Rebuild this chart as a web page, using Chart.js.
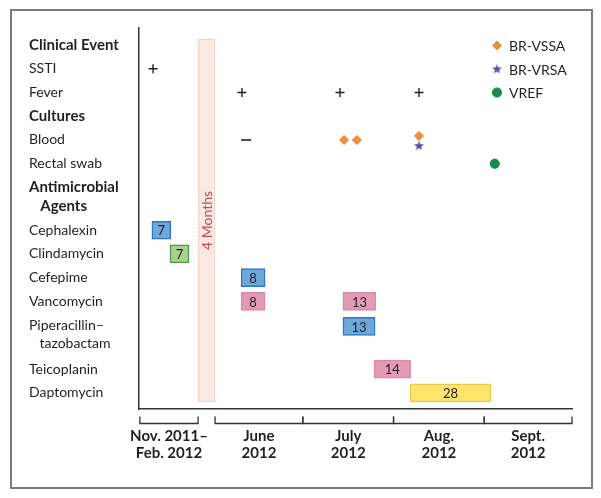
<!DOCTYPE html>
<html lang="en">
<head>
  <meta charset="UTF-8" />
  <title>Timeline</title>
  <script src="https://cdn.jsdelivr.net/npm/chart.js"></script>
  <style>
    body { margin: 0; background: #fff; }
    .wrap { position: relative; width: 601px; height: 498px; }
    .frame {
      position: absolute; left: 10px; top: 9px;
      width: 579px; height: 476px;
      border: 2px solid #7a7a7a;
      pointer-events: none;
    }
  </style>
</head>
<body>
  <div class="wrap">
    <canvas id="timeline" width="601" height="498"></canvas>
    <div class="frame"></div>
  </div>

  <script>
    // rows on the left (y values are row positions, top = 0)
    const rowLabels = ['Clinical Event', 'SSTI', 'Fever', 'Cultures', 'Blood', 'Rectal swab',
      ['Antimicrobial', '\u2003Agents'], 'Cephalexin', 'Clindamycin', 'Cefepime', 'Vancomycin',
      ['Piperacillin\u2013', '\u2003tazobactam'], 'Teicoplanin', 'Daptomycin'];
    const rowPos = [0, 1, 2, 3, 4, 5, 6.4, 7.8, 8.8, 9.8, 10.8, 12.2, 13.65, 14.65];
    const headerRows = [0, 3, 6];

    // time axis, in days from June 1 2012 (the Nov-Feb block is squeezed in front)
    const periodLabels = [['Nov. 2011\u2013', 'Feb. 2012'], ['June', '2012'], ['July', '2012'], ['Aug.', '2012'], ['Sept.', '2012']];
    const periodStart = [-25.7, 0, 30, 61, 92];
    const periodEnd = [-5.8, 30, 61, 92, 122];
    const gapStart = -5.8;
    const gapEnd = 0;
    const gapLabel = '4 Months';

    // antimicrobial courses
    const courseRow = [7.8, 8.8, 9.8, 10.8, 10.8, 11.85, 13.65, 14.65];
    const courseStart = [-21.6, -15.4, 8.9, 8.9, 43.7, 43.7, 54.3, 66.6];
    const courseEnd = [-15.1, -8.9, 17.1, 17.1, 55.0, 54.7, 66.9, 94.3];
    const courseDays = [7, 7, 8, 8, 13, 13, 14, 28];
    const courseDrug = ['Cephalexin', 'Clindamycin', 'Cefepime', 'Vancomycin', 'Vancomycin',
      'Piperacillin-tazobactam', 'Teicoplanin', 'Daptomycin'];

    // clinical events and cultures
    const positiveX = [-21.2, 9.2, 42.7, 69.7];
    const positiveRow = [1, 2, 2, 2];
    const negativeX = [10.6];
    const negativeRow = [4];
    const vssaX = [44.1, 48.5, 69.7];
    const vssaRow = [4, 4, 3.83];
    const vrsaX = [69.7];
    const vrsaRow = [4.24];
    const vrefX = [95.6];
    const vrefRow = [5];

    const FONT = 'Lato, "Open Sans", sans-serif';
    const TEXT = '#231f20';

    const drugColors = {
      'Cephalexin': ['#6fa6dc', '#2e78bf'],
      'Cefepime': ['#6fa6dc', '#2e78bf'],
      'Piperacillin-tazobactam': ['#6fa6dc', '#2e78bf'],
      'Clindamycin': ['#a9d18e', '#4f9a4a'],
      'Vancomycin': ['#e39ab6', '#d98aa8'],
      'Teicoplanin': ['#e39ab6', '#d98aa8'],
      'Daptomycin': ['#fde46b', '#e9c94a']
    };

    // filled star for BR-VRSA
    const starImg = document.createElement('canvas');
    starImg.width = 11;
    starImg.height = 11;
    (function () {
      const c = starImg.getContext('2d');
      c.fillStyle = '#5a4ea0';
      c.beginPath();
      for (let i = 0; i < 10; i++) {
        const r = i % 2 === 0 ? 5.3 : 2.2;
        const a = -Math.PI / 2 + i * Math.PI / 5;
        c.lineTo(5.5 + r * Math.cos(a), 5.8 + r * Math.sin(a));
      }
      c.closePath();
      c.fill();
    })();

    const pts = (xs, ys) => xs.map((x, i) => ({ x: x, y: ys[i] }));

    const gapPlugin = {
      id: 'gap',
      beforeDatasetsDraw(chart) {
        const { ctx, scales: { x, y } } = chart;
        const l = x.getPixelForValue(gapStart);
        const r = x.getPixelForValue(gapEnd);
        const t = y.getPixelForValue(-0.25);
        const b = y.getPixelForValue(15.03);
        ctx.save();
        ctx.fillStyle = '#f9e8e3';
        ctx.strokeStyle = '#f1d3cb';
        ctx.lineWidth = 1;
        ctx.fillRect(l, t, r - l, b - t);
        ctx.strokeRect(l + 0.5, t + 0.5, r - l - 1, b - t - 1);
        ctx.translate((l + r) / 2, (t + b) / 2);
        ctx.rotate(-Math.PI / 2);
        ctx.fillStyle = '#c0504d';
        ctx.font = '14px ' + FONT;
        ctx.textAlign = 'center';
        ctx.textBaseline = 'middle';
        ctx.fillText(gapLabel, 0, 1);
        ctx.restore();
      }
    };

    const extrasPlugin = {
      id: 'extras',
      afterDatasetsDraw(chart) {
        const { ctx, chartArea, scales: { x } } = chart;
        ctx.save();
        // day counts on the bars
        const meta = chart.getDatasetMeta(0);
        ctx.font = '13px ' + FONT;
        ctx.fillStyle = TEXT;
        ctx.textAlign = 'center';
        ctx.textBaseline = 'middle';
        meta.data.forEach((bar, i) => {
          const p = bar.getProps(['x', 'y', 'base'], true);
          ctx.fillText(String(courseDays[i]), (p.x + p.base) / 2, p.y + 1);
        });

        // period brackets under the axis
        const by = chartArea.bottom + 14.5;
        ctx.strokeStyle = '#333';
        ctx.lineWidth = 1.3;
        periodStart.forEach((s, i) => {
          const a = x.getPixelForValue(s);
          const b = x.getPixelForValue(periodEnd[i]);
          ctx.beginPath();
          ctx.moveTo(a, by - 7);
          ctx.lineTo(a, by);
          ctx.lineTo(b, by);
          ctx.lineTo(b, by - 7);
          ctx.stroke();
        });

        // legend
        const items = chart.data.datasets.filter(d => d.legendText);
        const lx = chartArea.right - 75;
        items.forEach((d, i) => {
          const ly = chartArea.top + 17.5 + i * 23.5;
          ctx.fillStyle = d.backgroundColor;
          ctx.strokeStyle = d.borderColor;
          ctx.lineWidth = 1;
          Chart.helpers.drawPoint(ctx, {
            pointStyle: d.pointStyle, radius: d.pointRadius, rotation: 0, borderWidth: 1
          }, lx, ly);
          ctx.fillStyle = TEXT;
          ctx.font = '14px ' + FONT;
          ctx.textAlign = 'left';
          ctx.fillText(d.legendText, lx + 12, ly + 1);
        });
        ctx.restore();
      }
    };

    new Chart(document.getElementById('timeline'), {
      type: 'scatter',
      data: {
        datasets: [{
          type: 'bar',
          indexAxis: 'y',
          data: courseRow.map((r, i) => ({ y: r, x: [courseStart[i], courseEnd[i]] })),
          backgroundColor: courseDrug.map(d => drugColors[d][0]),
          borderColor: courseDrug.map(d => drugColors[d][1]),
          borderWidth: 1.5,
          borderSkipped: false,
          barThickness: 18
        }, {
          data: pts(positiveX, positiveRow),
          pointStyle: 'cross',
          pointRadius: 4.5,
          borderColor: '#222',
          borderWidth: 1.4
        }, {
          data: pts(negativeX, negativeRow),
          pointStyle: 'line',
          pointRadius: 5,
          borderColor: '#222',
          borderWidth: 1.6
        }, {
          legendText: 'BR-VSSA',
          data: pts(vssaX, vssaRow),
          pointStyle: 'rectRot',
          pointRadius: 4.6,
          backgroundColor: '#e8913a',
          borderColor: '#e8913a',
          borderWidth: 1
        }, {
          legendText: 'BR-VRSA',
          data: pts(vrsaX, vrsaRow),
          pointStyle: starImg,
          pointRadius: 5,
          backgroundColor: '#5a4ea0',
          borderColor: '#5a4ea0'
        }, {
          legendText: 'VREF',
          data: pts(vrefX, vrefRow),
          pointStyle: 'circle',
          pointRadius: 4.6,
          backgroundColor: '#178a4c',
          borderColor: '#178a4c',
          borderWidth: 1
        }]
      },
      options: {
        responsive: false,
        animation: false,
        devicePixelRatio: 1,
        layout: { padding: { left: 29, right: 29, top: 28, bottom: 0 } },
        plugins: {
          legend: { display: false },
          tooltip: { enabled: false }
        },
        scales: {
          x: {
            type: 'linear',
            min: -26,
            max: 122,
            offset: false,
            grid: { display: false, drawTicks: false },
            border: { display: true, color: '#333', width: 1.5 },
            afterBuildTicks: s => {
              s.ticks = periodStart.map((v, i) => ({ value: (v + periodEnd[i]) / 2 }));
            },
            afterFit: s => { s.height = 89; },
            ticks: {
              autoSkip: false,
              maxRotation: 0,
              padding: 19,
              color: TEXT,
              font: { family: FONT, size: 15, weight: 'bold', lineHeight: 1.14 },
              callback: (v, i) => periodLabels[i]
            }
          },
          y: {
            type: 'linear',
            reverse: true,
            min: -0.716,
            max: 15.33,
            offset: false,
            grid: { display: false, drawTicks: false },
            border: { display: true, color: '#333', width: 1.5 },
            afterBuildTicks: s => {
              s.ticks = rowPos.map(v => ({ value: v }));
            },
            afterFit: s => { s.width = 110; },
            ticks: {
              autoSkip: false,
              crossAlign: 'far',
              color: TEXT,
              font: c => headerRows.includes(c.index)
                ? { family: FONT, size: 15, lineHeight: 1.25, weight: 'bold' }
                : { family: FONT, size: 14, lineHeight: 1.32, weight: 'normal' },
              callback: (v, i) => rowLabels[i]
            }
          }
        }
      },
      plugins: [gapPlugin, extrasPlugin]
    });
  </script>
</body>
</html>
